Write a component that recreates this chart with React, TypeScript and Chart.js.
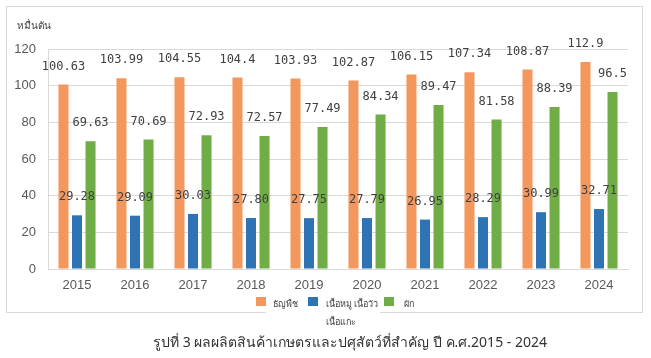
import React, { useEffect, useRef } from "react";
import { Chart, registerables } from "chart.js";

Chart.register(...registerables);

const years = ["2015", "2016", "2017", "2018", "2019", "2020", "2021", "2022", "2023", "2024"];
const cereals = [100.63, 103.99, 104.55, 104.4, 103.93, 102.87, 106.15, 107.34, 108.87, 112.9];
const meat = [29.28, 29.09, 30.03, 27.8, 27.75, 27.79, 26.95, 28.29, 30.99, 32.71];
const vegetables = [69.63, 70.69, 72.93, 72.57, 77.49, 84.34, 89.47, 81.58, 88.39, 96.5];
const seriesNames = ["ธัญพืช", "เนื้อหมู เนื้อวัว เนื้อแกะ", "ผัก"];
const seriesColors = ["#F4975C", "#2E74B5", "#70AD47"];
const yTicks = [0, 20, 40, 60, 80, 100, 120];
const yTitle = "หมื่นตัน";
const caption = "รูปที่ 3 ผลผลิตสินค้าเกษตรและปศุสัตว์ที่สำคัญ ปี ค.ศ.2015 - 2024";

const labelFormat = [
  (v: number) => String(v),
  (v: number) => v.toFixed(2),
  (v: number) => String(v),
];

const dataLabelPlugin = {
  id: "dataLabels",
  afterDatasetsDraw(chart: any) {
    const ctx = chart.ctx;
    ctx.save();
    ctx.font = "12px 'DejaVu Sans Mono', monospace";
    ctx.fillStyle = "#404040";
    ctx.textAlign = "center";
    ctx.textBaseline = "middle";
    chart.data.datasets.forEach((ds: any, i: number) => {
      const meta = chart.getDatasetMeta(i);
      meta.data.forEach((el: any, j: number) => {
        ctx.fillText(labelFormat[i](ds.data[j]), el.x, el.y - 18);
      });
    });
    ctx.restore();
  },
};

function splitLast(s: string): [string, string] {
  const k = s.lastIndexOf(" ");
  return k < 0 ? [s, ""] : [s.slice(0, k), s.slice(k + 1)];
}

export default function App() {
  const ref = useRef<HTMLCanvasElement>(null);
  useEffect(() => {
    if (!ref.current) return;
    const data = [cereals, meat, vegetables];
    const chart = new Chart(ref.current, {
      type: "bar",
      data: {
        labels: years,
        datasets: data.map((d, i) => ({
          label: seriesNames[i],
          data: d,
          backgroundColor: seriesColors[i],
          borderWidth: 0,
          categoryPercentage: 0.7,
          barPercentage: 0.74,
        })),
      },
      options: {
        responsive: false,
        animation: false,
        layout: { padding: { left: 0, right: 23, top: 49, bottom: 59 } },
        plugins: { legend: { display: false }, tooltip: { enabled: false } },
        scales: {
          x: {
            grid: { display: false, drawTicks: false },
            border: { display: true, color: "#D9D9D9" },
            ticks: {
              color: "#595959",
              font: { family: "'Liberation Sans', Arial, sans-serif", size: 13 },
              padding: 9,
            },
            afterFit: (s: any) => {
              s.height = 30;
            },
          },
          y: {
            min: 0,
            max: 120,
            afterBuildTicks: (s: any) => {
              s.ticks = yTicks.map((v) => ({ value: v }));
            },
            grid: { color: "#D9D9D9", drawTicks: false },
            border: { display: true, color: "#D9D9D9" },
            ticks: {
              color: "#595959",
              font: { family: "'Liberation Sans', Arial, sans-serif", size: 13 },
              padding: 12,
            },
            afterFit: (s: any) => {
              s.width = 48;
            },
          },
        },
      },
      plugins: [dataLabelPlugin],
    });
    return () => chart.destroy();
  }, []);

  const legendFont = "'Noto Sans', 'DejaVu Sans', sans-serif";
  const [meat1, meat2] = splitLast(seriesNames[1]);
  const lt = { position: "absolute" as const, fontSize: 9, fontFamily: legendFont, color: "#404040", lineHeight: "12px", whiteSpace: "nowrap" as const };
  return (
    <div style={{ position: "absolute", left: 0, top: 0, width: 651, height: 358, background: "#fff", overflow: "hidden" }}>
      <div
        style={{
          position: "absolute",
          left: 6,
          top: 6,
          width: 637,
          height: 307,
          border: "1px solid #D9D9D9",
          boxSizing: "border-box",
        }}
      />
      <canvas ref={ref} width={651} height={358} style={{ position: "absolute", left: 0, top: 0 }} />
      <div style={{ position: "absolute", left: 17, top: 18, fontSize: 10, fontFamily: legendFont, color: "#404040" }}>
        {yTitle}
      </div>
      {/* legend */}
      <div style={{ position: "absolute", left: 266, top: 295, width: 114, height: 34, background: "#fff" }} />
      <div style={{ position: "absolute", left: 256, top: 297, width: 10, height: 9, background: seriesColors[0] }} />
      <div style={{ ...lt, left: 273, top: 298 }}>{seriesNames[0]}</div>
      <div style={{ position: "absolute", left: 308, top: 297, width: 10, height: 9, background: seriesColors[1] }} />
      <div style={{ ...lt, left: 326, top: 298 }}>{meat1}</div>
      <div style={{ ...lt, left: 326, top: 316 }}>{meat2}</div>
      <div style={{ position: "absolute", left: 384, top: 297, width: 10, height: 9, background: seriesColors[2] }} />
      <div style={{ ...lt, left: 404, top: 298 }}>{seriesNames[2]}</div>
      <div
        style={{
          position: "absolute",
          left: 0,
          width: 651,
          top: 331,
          textAlign: "center",
          fontSize: 14,
          fontFamily: legendFont,
          color: "#333",
          paddingLeft: 49,
          boxSizing: "border-box",
        }}
      >
        {caption}
      </div>
    </div>
  );
}
